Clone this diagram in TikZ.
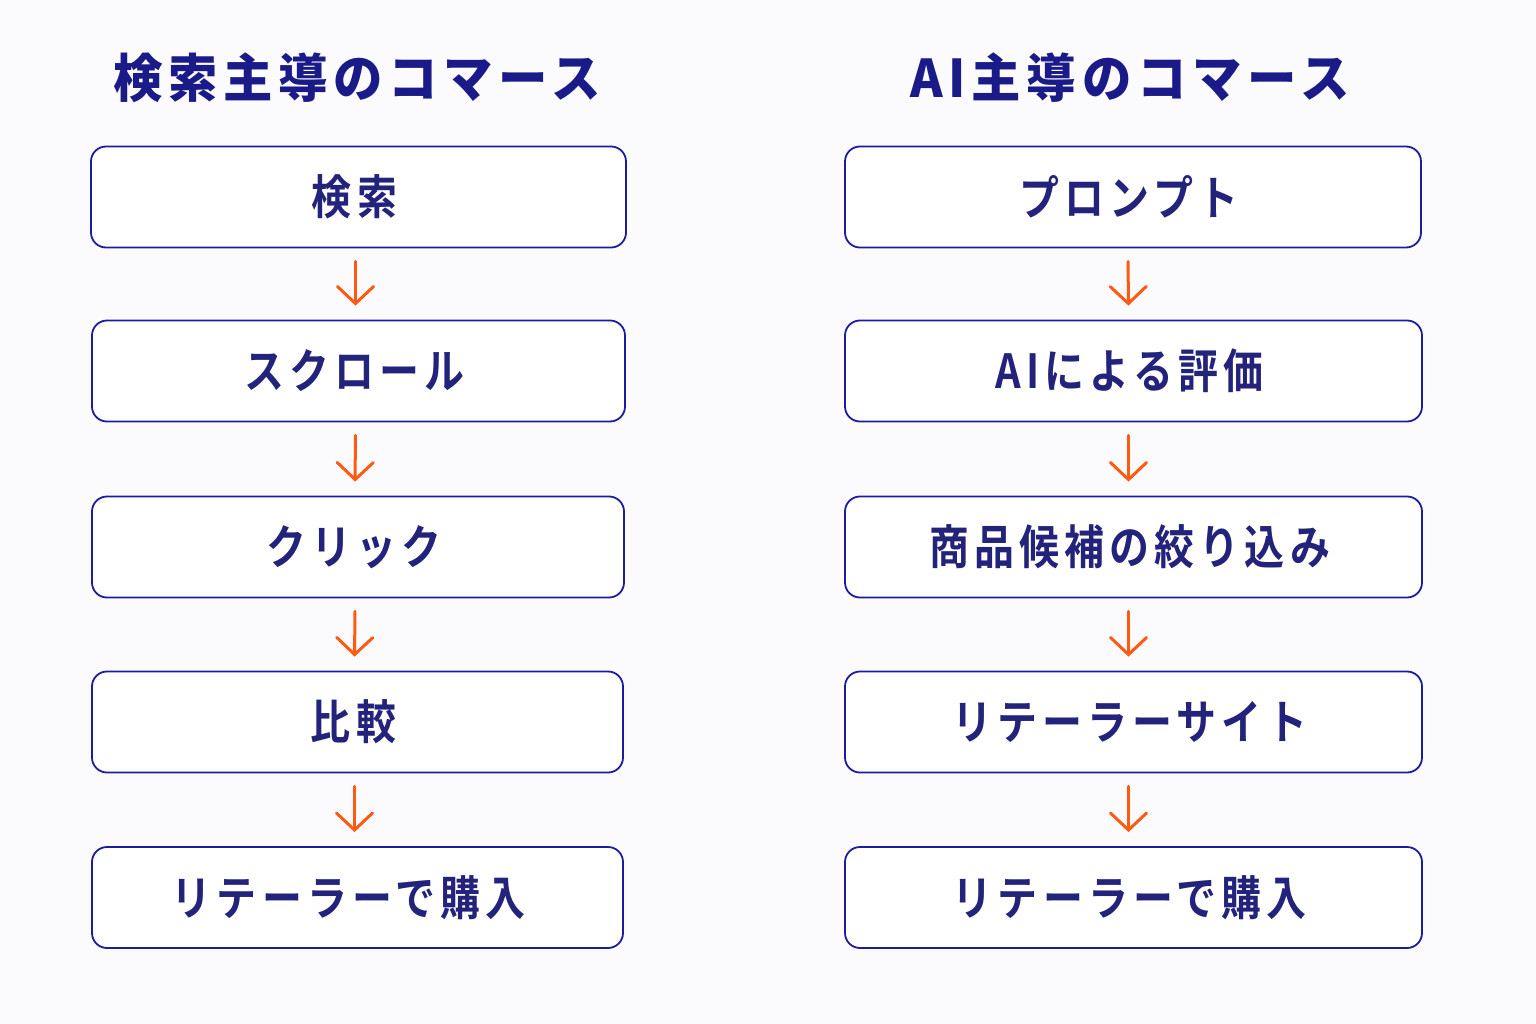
\documentclass[tikz,border=0pt]{standalone}
\usepackage{fontspec}
\usetikzlibrary{arrows.meta}
\newfontfamily\titlefont{Noto Sans CJK JP Black}[FakeStretch=0.95, LetterSpace=11]
\newfontfamily\boxfont{Noto Sans CJK JP Bold}[FakeStretch=0.85, LetterSpace=11]
\definecolor{titlecol}{HTML}{1A1A88}
\definecolor{textcol}{HTML}{23237C}
\definecolor{bordercol}{HTML}{1C1C9C}
\definecolor{arrowcol}{HTML}{FF5A14}
\definecolor{bgcol}{HTML}{FBFBFD}
\tikzset{
  titletext/.style={text=titlecol, font=\titlefont\fontsize{52pt}{60pt}\selectfont, inner sep=0pt, anchor=center},
  stepbox/.style={draw=bordercol, line width=1.8pt, rounded corners=15pt, fill=white,
    text=textcol, font=\boxfont\fontsize{47pt}{56pt}\selectfont, inner sep=0pt, anchor=center,
    execute at end node=\kern8pt},
  flowarrow/.style={draw=arrowcol, line width=3pt, line cap=round,
    -{Straight Barb[length=17pt, width=36pt, line cap=round]}, shorten <=13pt, shorten >=14pt}
}
\begin{document}
\begin{tikzpicture}[x=1pt, y=-1pt]
\useasboundingbox (0,0) rectangle (1536,1024);
\fill[bgcol] (0,0) rectangle (1536,1024);

\node[titletext] (tl) at (357,78) {検索主導のコマース};
\node[titletext] (tr) at (1130,78) {AI主導のコマース};

% left column
\node[stepbox, minimum width=535pt, minimum height=101pt] (l1) at (358.5,197) {検索};
\node[stepbox, minimum width=533pt, minimum height=101pt] (l2) at (358.5,371) {スクロール};
\node[stepbox, minimum width=532pt, minimum height=101pt] (l3) at (358,547) {クリック};
\node[stepbox, minimum width=531pt, minimum height=101pt] (l4) at (357.5,722) {比較};
\node[stepbox, minimum width=531pt, minimum height=101pt] (l5) at (357.5,897.5) {リテーラーで購入\kern10pt};

% right column
\node[stepbox, minimum width=576pt, minimum height=101pt] (r1) at (1133,197) {プロンプト};
\node[stepbox, minimum width=577pt, minimum height=101pt] (r2) at (1133.5,371) {AIによる評価};
\node[stepbox, minimum width=577pt, minimum height=101pt] (r3) at (1133.5,547) {商品候補の絞り込み};
\node[stepbox, minimum width=577pt, minimum height=101pt] (r4) at (1133.5,722) {リテーラーサイト};
\node[stepbox, minimum width=577pt, minimum height=101pt] (r5) at (1133.5,897.5) {リテーラーで購入};

\foreach \a/\b in {l1/l2,l2/l3,l3/l4,l4/l5}{
  \draw[flowarrow] ([xshift=-3pt]\a.south) -- ([xshift=-3pt]\b.north);
}
\foreach \a/\b in {r1/r2,r2/r3,r3/r4,r4/r5}{
  \draw[flowarrow] ([xshift=-5pt]\a.south) -- ([xshift=-5pt]\b.north);
}
\end{tikzpicture}
\end{document}
